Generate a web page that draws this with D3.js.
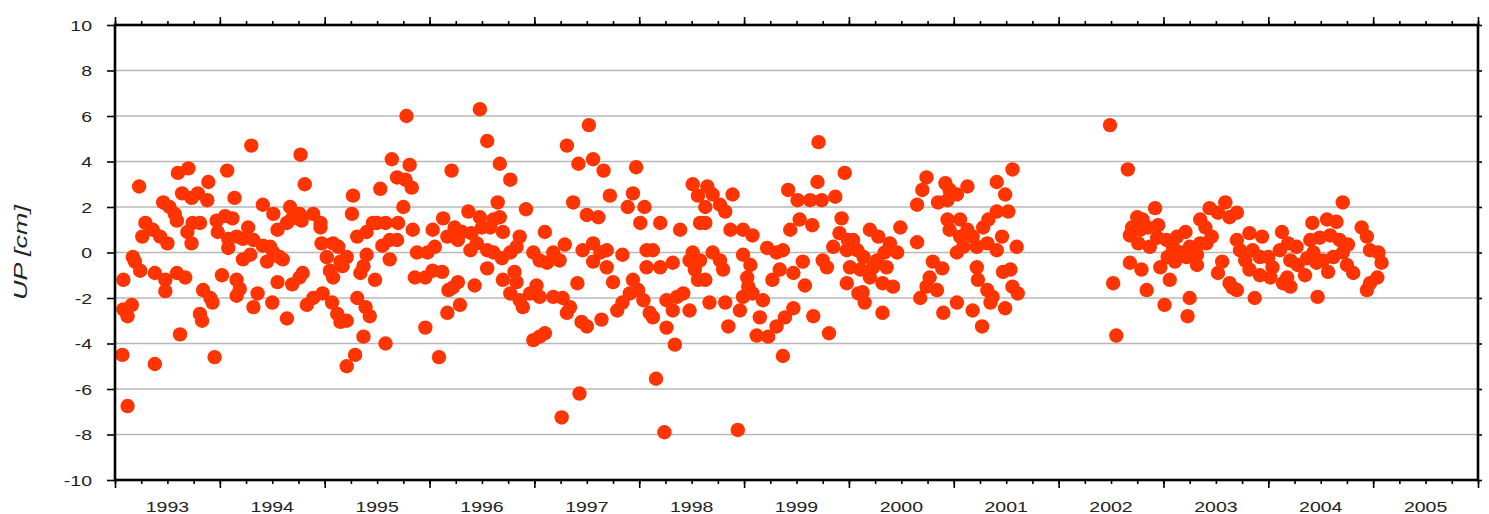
<!DOCTYPE html>
<html><head><meta charset="utf-8">
<script src="https://cdn.jsdelivr.net/npm/d3@7"></script>
<style>body{margin:0;background:#fff;overflow:hidden}</style>
</head><body>
<svg id="c" width="1489" height="514"></svg>
<script>
// Observation epochs (decimal years) and UP component (cm)
const epoch = [
1994.30,1994.77,1995.64,1993.70,1993.60,1994.07,1993.23,1993.89,1994.81,1995.69,
1995.53,1993.64,1993.73,1993.79,1993.88,1994.14,1995.27,1993.46,1993.52,1993.57,
1994.41,1994.51,1994.67,1994.76,1994.89,1994.96,1995.26,1995.50,1995.58,1995.70,
1993.29,1993.26,1993.36,1993.43,1993.50,1993.74,1993.81,1993.69,1993.73,1993.59,
1993.97,1994.05,1994.12,1993.98,1994.27,1994.22,1994.08,1994.08,1994.16,1994.32,
1994.41,1994.48,1994.51,1994.22,1994.29,1994.45,1994.57,1994.60,1994.55,1994.64,
1994.69,1994.78,1994.96,1994.97,1995.08,1995.13,1995.02,1995.05,1995.08,1995.15,
1995.21,1995.17,1995.31,1995.40,1995.46,1995.55,1995.62,1995.69,1995.40,1995.37,
1995.34,1995.62,1993.17,1993.19,1993.24,1993.08,1993.38,1993.48,1993.48,1993.59,
1993.67,1994.02,1994.16,1994.16,1994.19,1993.84,1993.91,1993.93,1993.81,1993.83,
1994.32,1994.36,1994.50,1994.55,1994.69,1994.76,1994.79,1994.64,1994.83,1994.89,
1994.98,1995.07,1995.12,1995.15,1995.21,1995.31,1995.39,1995.43,1995.48,1993.08,
1993.12,1993.16,1993.62,1995.37,1995.29,1995.21,1995.58,1993.07,1993.38,1993.95,
1993.12,
1995.78,1996.48,1996.55,1995.81,1995.77,1995.83,1996.21,1996.67,1996.77,1995.75,
1996.65,1996.92,1996.37,1996.48,1996.61,1996.67,1996.13,1996.03,1995.84,1996.24,
1996.31,1996.40,1996.50,1996.58,1996.70,1996.86,1997.10,1997.31,1997.52,1997.42,
1997.56,1997.66,1997.97,1997.37,1997.50,1997.61,1997.72,1997.94,1997.89,1998.05,
1998.01,1998.20,1998.39,1998.51,1998.56,1998.58,1995.88,1995.98,1996.05,1996.17,
1996.27,1996.39,1996.45,1996.55,1996.61,1996.69,1996.77,1996.83,1996.99,1997.05,
1997.12,1997.18,1997.24,1997.29,1997.46,1997.56,1997.63,1997.69,1997.84,1997.56,
1997.69,1998.07,1998.13,1998.07,1998.20,1998.32,1998.48,1998.51,1995.86,1995.96,
1996.12,1996.03,1996.18,1996.27,1996.43,1996.55,1996.70,1996.81,1996.83,1996.77,
1996.86,1996.89,1996.96,1997.02,1997.05,1997.18,1997.27,1997.41,1997.75,1997.31,
1997.34,1997.45,1997.50,1997.64,1997.79,1997.84,1997.94,1997.99,1997.91,1998.04,
1998.10,1998.13,1998.26,1998.32,1998.26,1998.36,1998.42,1998.48,1998.34,1998.53,
1998.56,1998.58,1996.17,1996.29,1996.22,1995.96,1996.09,1996.99,1997.05,1997.10,
1997.43,1997.26,1998.16,1998.24,
1999.71,1999.96,1999.70,1999.42,1999.51,1999.63,1999.74,1999.87,1998.65,1998.70,
1998.63,1998.77,1998.82,1998.89,1998.63,1998.87,1998.99,1999.08,1999.44,1999.53,
1999.65,1999.93,1999.91,1999.99,1998.70,1998.77,1998.80,1998.63,1998.99,1999.06,
1999.22,1999.31,1999.37,1999.03,1999.04,1999.27,1999.34,1999.47,1999.56,1999.58,
1999.75,1999.79,1999.85,1999.98,2000.01,1999.98,1998.67,1998.82,1998.96,1998.99,
1999.08,1999.18,1999.15,1998.85,1999.12,1999.23,1999.31,1999.39,1999.47,1999.66,
1999.81,1999.37,1998.94,2000.09,
2001.56,2000.74,2000.70,2000.65,2000.92,2000.96,2001.13,2000.85,2000.94,2001.03,
2001.41,2001.49,2001.52,2001.41,2001.33,2001.28,2000.94,2001.06,2000.96,2001.13,
2001.06,2001.18,2001.09,2001.22,2001.32,2001.41,2001.46,2001.60,2001.03,2000.20,
2000.28,2000.49,2000.39,2000.46,2000.34,2000.27,2000.14,2000.11,2000.23,2000.36,
2000.20,2000.65,2000.04,2000.08,2000.32,2000.42,2000.13,2000.15,2000.32,2000.80,
2000.89,2000.77,2000.84,2000.74,2000.68,2001.22,2001.23,2001.32,2001.37,2001.35,
2001.47,2001.54,2001.56,2001.61,2001.49,2000.90,2001.03,2001.18,2001.27,
2002.49,2002.66,2002.52,2002.55,2002.92,2002.75,2002.80,2002.70,2002.78,2002.85,
2002.95,2002.68,2002.76,2002.87,2002.94,2003.03,2003.13,2003.21,2003.09,2003.16,
2003.25,2003.04,2003.11,2003.22,2003.32,2003.32,2002.68,2002.79,2002.97,2003.06,
2002.84,2003.01,2003.25,2003.23,2003.35,2003.44,2003.40,2003.46,2003.41,2003.35,
2003.59,2003.52,2003.63,2003.70,2003.56,2003.52,2003.66,2003.70,
2004.71,2004.42,2004.56,2004.65,2004.89,2004.94,2003.82,2003.94,2004.13,2004.19,
2004.27,2004.11,2004.40,2004.49,2004.59,2004.68,2004.76,2003.73,2003.78,2003.85,
2003.92,2004.00,2004.04,2003.82,2003.92,2004.02,2004.21,2004.28,2004.37,2004.43,
2004.46,2004.52,2004.62,2004.71,2004.75,2004.81,2004.97,2005.05,2005.08,2005.04,
2004.97,2004.94,2004.18,2004.21,2004.14,2004.35,2004.57,2003.63,2003.70,
2003.87,2004.47
];
const upCm = [
4.7,4.3,4.1,3.7,3.5,3.6,2.9,3.1,3.0,3.3,
2.8,2.6,2.4,2.6,2.3,2.4,2.5,2.2,2.0,1.7,
2.1,1.7,2.0,1.7,1.7,1.3,1.7,1.3,1.3,1.3,
1.3,0.7,1.0,0.7,0.4,1.3,1.3,0.9,0.4,1.4,
1.4,1.6,1.5,0.9,1.1,0.6,0.6,0.2,0.7,0.55,
0.3,0.25,0.0,-0.3,-0.1,-0.4,-0.2,-0.3,1.0,1.3,
1.5,1.4,1.1,0.4,0.4,0.25,-0.2,-0.8,-1.1,-0.4,
-0.2,-0.6,0.7,0.9,1.3,0.3,0.55,0.55,-0.1,-0.6,
-0.9,-0.3,-0.2,-0.4,-0.8,-1.2,-0.9,-1.2,-1.7,-0.9,
-1.1,-1.0,-1.2,-1.9,-1.6,-1.65,-2.0,-2.2,-2.7,-3.0,
-2.4,-1.8,-2.2,-1.3,-1.4,-1.1,-0.9,-2.9,-2.3,-2.0,
-1.8,-2.2,-2.7,-3.05,-3.0,-2.0,-2.4,-2.8,-1.2,-2.5,
-2.8,-2.3,-3.6,-3.7,-4.5,-5.0,-4.0,-4.5,-4.9,-4.6,
-6.75,
6.0,6.3,4.9,3.85,3.2,2.85,3.6,3.9,3.2,2.0,
2.2,1.9,1.8,1.55,1.45,1.55,1.5,1.0,1.0,1.1,
0.9,0.85,1.1,1.1,0.9,0.7,0.9,4.7,5.6,3.9,
4.1,3.6,3.75,2.2,1.65,1.55,2.5,2.6,2.0,2.0,
1.3,1.3,1.0,3.0,2.5,1.3,0.0,0.0,0.25,0.7,
0.55,0.1,0.4,0.1,0.0,-0.25,0.0,0.25,0.0,-0.35,
-0.45,0.0,-0.35,0.35,0.1,0.4,0.0,0.1,-0.1,-0.4,
-0.65,0.1,0.1,-0.65,-0.65,-0.45,-0.35,0.0,-1.1,-1.1,
-0.85,-0.8,-1.65,-1.3,-1.45,-0.7,-1.2,-0.85,-1.3,-1.8,
-2.1,-2.4,-1.8,-1.45,-1.95,-1.95,-2.0,-1.35,-1.3,-2.65,
-2.4,-3.05,-3.25,-2.95,-2.55,-2.2,-1.2,-1.65,-1.8,-2.1,
-2.65,-2.85,-3.3,-2.55,-2.1,-1.95,-1.8,-2.55,-4.05,-0.75,
-1.2,-0.35,-2.65,-2.3,-1.55,-3.3,-4.6,-3.85,-3.7,-3.55,
-6.2,-7.25,-5.55,-7.9,
4.85,3.5,3.1,2.75,2.3,2.3,2.3,2.45,2.9,2.55,
2.0,2.1,1.8,2.55,1.3,1.0,1.0,0.75,1.0,1.45,
1.2,1.5,0.85,0.55,0.0,-0.35,-0.75,-1.2,-0.1,-0.55,
0.2,0.0,0.1,-1.1,-1.5,-1.2,-0.75,-0.9,-0.4,-1.45,
-0.35,-0.65,0.25,0.1,-0.65,-1.35,-2.2,-2.2,-2.55,-1.95,
-1.8,-2.1,-2.85,-3.25,-3.65,-3.7,-3.25,-2.85,-2.45,-2.8,
-3.55,-4.55,-7.8,-1.8,
3.65,3.3,2.75,2.1,3.05,2.75,2.9,2.2,2.3,2.55,
3.1,2.55,1.8,1.8,1.45,1.1,1.45,1.45,1.0,1.0,
0.7,0.7,0.25,0.25,0.4,0.1,0.7,0.25,0.0,1.0,
0.7,1.1,0.4,0.0,0.0,-0.35,-0.2,-0.75,-0.65,-0.65,
-1.1,0.45,0.55,0.1,-1.35,-1.5,-1.75,-2.2,-2.65,-0.4,
-0.7,-1.1,-1.65,-1.5,-2.0,-0.65,-1.2,-1.65,-1.95,-2.2,
-0.85,-0.75,-1.5,-1.8,-2.45,-2.65,-2.2,-2.55,-3.25,
5.6,3.65,-1.35,-3.65,1.95,1.55,1.45,1.1,1.0,1.1,
1.2,0.75,0.4,0.25,0.65,0.55,0.7,0.9,0.25,0.0,
0.25,-0.2,-0.4,-0.2,-0.1,-0.55,-0.45,-0.75,-0.65,-1.2,
-1.65,-2.3,-2.0,-2.8,1.45,1.95,1.1,0.7,0.4,0.4,
2.2,1.75,1.55,1.75,-0.4,-0.9,-1.55,0.55,
2.2,1.3,1.45,1.35,1.1,0.7,0.85,0.7,0.9,0.4,
0.25,0.1,0.55,0.65,0.75,0.55,0.35,0.1,-0.35,0.1,
-0.2,-0.2,-0.65,-0.75,-1.0,-1.1,-0.35,-0.55,-0.25,0.0,
-0.45,-0.35,-0.2,0.0,-0.55,-0.9,0.1,0.0,-0.45,-1.1,
-1.35,-1.65,-1.1,-1.5,-1.35,-1.0,-0.85,-1.35,-1.65,
-2.0,-1.95
];
const yTicks = [-10,-8,-6,-4,-2,0,2,4,6,8,10];
const yearLabels = [1993,1994,1995,1996,1997,1998,1999,2000,2001,2002,2003,2004,2005];
const yTitle = "UP [cm]";

const L = 115, R = 1478, T = 25, B = 480;
const x = d3.scaleLinear().domain([1993, 2006]).range([L, R]);
const y = d3.scaleLinear().domain([-10, 10]).range([B, T]);
const svg = d3.select('#c');
const FONT = "'Liberation Sans', Arial, sans-serif";
const SX = 1.3;

// grid lines
svg.append('g').selectAll('line').data(yTicks.filter(v => v > -10 && v < 10)).join('line')
  .attr('x1', L).attr('x2', R).attr('y1', d => y(d)).attr('y2', d => y(d))
  .attr('stroke', '#b8b8b8').attr('stroke-width', 1.6);

// points
const pts = epoch.map((t, i) => ({t, v: upCm[i]}));
svg.append('g').selectAll('circle').data(pts).join('circle')
  .attr('cx', d => x(d.t)).attr('cy', d => y(d.v)).attr('r', 7.2)
  .attr('fill', '#ff3400');

// ticks
const quarters = d3.range(0, 53).map(i => 1993 + i * 0.25);
const years = d3.range(1993, 2007);
function styleAxis(g) {
  g.select('.domain').remove();
  g.selectAll('line').attr('stroke', '#000').attr('stroke-width', 1.6);
  g.selectAll('text').remove();
}
svg.append('g').attr('transform', `translate(0,${B})`)
  .call(d3.axisBottom(x).tickValues(quarters).tickSize(4)).call(styleAxis);
svg.append('g').attr('transform', `translate(0,${B})`)
  .call(d3.axisBottom(x).tickValues(years).tickSize(8)).call(styleAxis);
svg.append('g').attr('transform', `translate(0,${T})`)
  .call(d3.axisTop(x).tickValues(quarters).tickSize(4)).call(styleAxis);
svg.append('g').attr('transform', `translate(0,${T})`)
  .call(d3.axisTop(x).tickValues(years).tickSize(8)).call(styleAxis);
svg.append('g').attr('transform', `translate(${R},0)`)
  .call(d3.axisRight(y).tickValues(yTicks).tickSize(4)).call(styleAxis);

const yAx = svg.append('g').attr('transform', `translate(${L},0)`)
  .call(d3.axisLeft(y).tickValues(yTicks).tickSize(8).tickPadding(15).tickFormat(d => String(d)));
yAx.select('.domain').remove();
yAx.selectAll('line').attr('stroke', '#000').attr('stroke-width', 1.6);
yAx.selectAll('text')
  .attr('font-family', FONT).attr('font-size', 15).attr('fill', '#222')
  .attr('x', -23 / SX).attr('dy', '0.36em')
  .attr('transform', `scale(${SX},1)`);

// year labels centred in each year
svg.append('g').selectAll('text').data(yearLabels).join('text')
  .attr('transform', d => `translate(${x(d + 0.5)},512) scale(${SX},1)`)
  .attr('text-anchor', 'middle')
  .attr('font-family', FONT).attr('font-size', 15).attr('fill', '#222')
  .text(d => d);

// frame
svg.append('rect').attr('x', L).attr('y', T).attr('width', R - L).attr('height', B - T)
  .attr('fill', 'none').attr('stroke', '#000').attr('stroke-width', 2.6);

// y title
svg.append('text')
  .attr('transform', `translate(27,${(T + B) / 2}) rotate(-90) scale(1.5,1)`)
  .attr('text-anchor', 'middle')
  .attr('font-family', FONT).attr('font-style', 'italic').attr('font-size', 18).attr('fill', '#222')
  .text(yTitle);
</script>
</body></html>
